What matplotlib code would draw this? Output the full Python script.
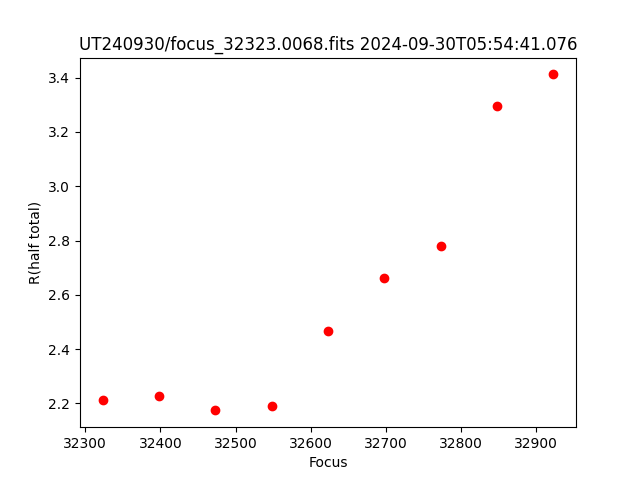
import numpy as np
import matplotlib
matplotlib.use('Agg')
import matplotlib.pyplot as plt

# focus positions and measured half-total radius
focus = np.array([32323, 32398, 32473, 32548, 32623, 32698, 32773, 32848, 32923])
rhalf = np.array([2.214, 2.226, 2.174, 2.191, 2.466, 2.660, 2.778, 3.294, 3.412])

fig = plt.figure(figsize=(6.4, 4.8), dpi=100)
plt.plot(focus, rhalf, 'ro')
plt.xlabel('Focus')
plt.ylabel('R(half total)')
plt.title('UT240930/focus_32323.0068.fits 2024-09-30T05:54:41.076')
plt.savefig('out.png')
